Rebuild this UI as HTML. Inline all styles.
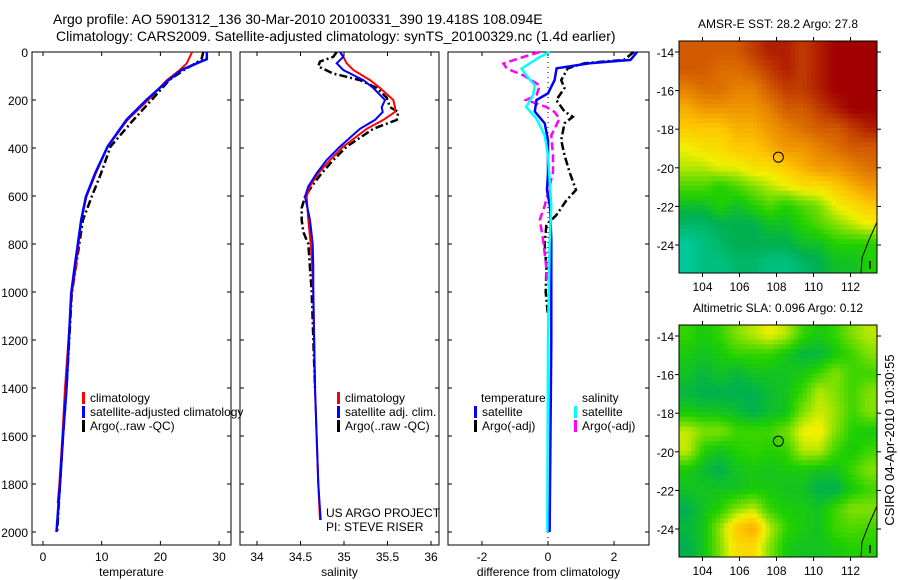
<!DOCTYPE html>
<html><head><meta charset="utf-8"><style>
body{margin:0;background:#fff}
svg{display:block;font-family:"Liberation Sans",sans-serif}
</style></head><body>
<svg id="c" width="900" height="580" xmlns="http://www.w3.org/2000/svg">
<rect width="900" height="580" fill="#fff"/>
<text x="53" y="24" font-size="14">Argo profile: AO 5901312_136 30-Mar-2010 20100331_390 19.418S 108.094E</text>
<text x="56" y="41" font-size="14">Climatology: CARS2009. Satellite-adjusted climatology: synTS_20100329.nc (1.4d earlier)</text>
<g id="g"></g>
<text transform="translate(894,440) rotate(-90)" font-size="13" text-anchor="middle">CSIRO 04-Apr-2010 10:30:55</text>
</svg>
<script>
// ---- data ----
const tDepth=[0,47,75,117,200,283,394,505,603,700,894,1005,1400,1600,1800,1880];
const tClim=[25.4,24.5,23.3,21.1,17.9,14.4,11,9,7.4,6.5,5.6,4.9,3.75,3.3,2.8,2.5];
const tSatDepth=[0,30,47,75,117,200,283,394,505,603,700,894,1005,1400,1600,1800,2000];
const tSat=[27.9,27.9,26.2,23.6,21.4,17.6,14.2,11,8.9,7.3,6.5,5.4,4.8,4,3.4,2.9,2.3];
const tArgo=[27.3,27.0,26.0,24,21.5,18.5,15.4,11.5,9.9,8.3,6.8,5.6,4.9,4,3.4,2.9,2.4];
const sDepth=[0,20,47,75,117,150,200,230,250,283,320,394,450,505,560,603,700,800,900,1000,1400,1800,1950];
const sClimZ=[1020,1030,1040,1060,1110,1140,1180,1185,1185,1150,1100,1030,990,955,930,920,925,932,937,940,945,955,960];
const sSatZ=[1020,1030,1010,1030,1090,1120,1155,1145,1148,1125,1080,1020,980,950,925,915,930,938,940,940,945,955,962];
const sArgoDepth=[0,20,40,60,90,117,150,190,230,250,283,320,394,450,505,560,603,650,700,750,800,900,1000,1400];
const sArgoZ=[1010,1000,960,955,1000,1080,1130,1160,1170,1195,1190,1120,1040,1000,965,935,915,905,905,910,925,930,935,945];
const dTSatDepth=[0,33,47,68,117,172,200,248,297,367,506,575,645,783,1200,2000];
const dTSat=[2.7,2.5,1.27,0.26,0.2,0,-0.35,-0.4,-0.1,0,0,-0.03,0.06,0.1,0.1,0.05];
const dTArgoDepth=[0,33,47,68,117,150,200,248,270,297,367,430,500,575,620,680,720,800,900,1000,1100];
const dTArgo=[2.6,2.3,1.1,0.6,0.4,0.5,0.25,0.5,0.75,0.5,0.4,0.5,0.65,0.85,0.55,0.25,-0.05,-0.1,-0.05,-0.07,0];
const dSSatDepth=[0,21,69,97,139,180,229,278,347,431,640,800,1200,2000];
const dSSat=[0.05,-0.25,-0.8,-0.66,-0.4,-0.45,-0.66,-0.35,-0.1,0,0.1,0.05,0,-0.02];
const dSArgoDepth=[0,21,48,69,97,139,180,200,229,250,278,347,431,500,560,640,700,780,900,960];
const dSArgo=[-0.25,-0.75,-1.35,-1.25,-0.75,-0.25,-0.35,-0.66,-0.05,0.2,0.35,0.1,0.15,0.15,0.05,-0.1,-0.25,-0.15,-0.05,-0.05];
const depthTicks=[0,200,400,600,800,1000,1200,1400,1600,1800,2000];
const tTicks=[0,10,20,30], sTicks=[34,34.5,35,35.5,36], dTicks=[-2,0,2];
const lonTicks=[104,106,108,110,112], latTicks=[-14,-16,-18,-20,-22,-24];
const sstGrid=[
[0.85,0.85,0.85,0.85,0.9,0.95,0.95,0.9,0.95,1,1,1],
[0.85,0.85,0.8,0.8,0.85,0.9,0.95,0.9,0.95,1,1,1],
[0.75,0.8,0.8,0.75,0.75,0.85,0.9,0.9,0.95,1,1,1],
[0.65,0.7,0.7,0.7,0.7,0.75,0.85,0.85,0.9,0.95,1,1],
[0.6,0.6,0.6,0.65,0.65,0.7,0.75,0.8,0.85,0.85,0.9,0.95],
[0.5,0.55,0.55,0.6,0.6,0.65,0.7,0.7,0.75,0.8,0.85,0.85],
[0.45,0.45,0.5,0.5,0.55,0.55,0.6,0.65,0.7,0.7,0.75,0.8],
[0.35,0.35,0.3,0.35,0.4,0.45,0.5,0.55,0.55,0.6,0.65,0.7],
[0.25,0.25,0.3,0.25,0.3,0.35,0.3,0.35,0.4,0.5,0.55,0.6],
[0.15,0.15,0.2,0.2,0.2,0.25,0.25,0.3,0.35,0.4,0.45,0.5],
[0.05,0.1,0.15,0.2,0.2,0.2,0.2,0.25,0.25,0.3,0.3,0.3],
[0.05,0.1,0.1,0.15,0.15,0.1,0.1,0.15,0.2,0.25,0.25,0.3]];
const slaGrid=[
[0.32,0.28,0.32,0.4,0.45,0.5,0.45,0.32,0.28,0.32,0.4,0.45],
[0.28,0.26,0.28,0.32,0.32,0.32,0.27,0.22,0.22,0.28,0.33,0.4],
[0.26,0.22,0.26,0.22,0.26,0.26,0.26,0.28,0.33,0.4,0.33,0.33],
[0.22,0.2,0.2,0.2,0.2,0.24,0.26,0.33,0.45,0.4,0.33,0.4],
[0.28,0.26,0.26,0.24,0.2,0.24,0.26,0.4,0.47,0.42,0.33,0.4],
[0.46,0.4,0.4,0.33,0.33,0.33,0.38,0.5,0.52,0.4,0.3,0.28],
[0.46,0.3,0.26,0.3,0.32,0.3,0.32,0.45,0.45,0.33,0.28,0.33],
[0.28,0.24,0.2,0.26,0.28,0.26,0.28,0.28,0.26,0.26,0.33,0.4],
[0.26,0.26,0.26,0.26,0.28,0.28,0.26,0.26,0.2,0.2,0.28,0.33],
[0.2,0.26,0.3,0.4,0.45,0.32,0.28,0.28,0.26,0.33,0.4,0.4],
[0.22,0.26,0.42,0.6,0.66,0.45,0.32,0.28,0.26,0.33,0.35,0.33],
[0.2,0.26,0.4,0.55,0.56,0.4,0.28,0.26,0.26,0.28,0.3,0.3]];
const argoLon=[108.1], argoLat=[-19.45];
// ---- drawing ----
const NS='http://www.w3.org/2000/svg', G=document.getElementById('g');
function mk(t,a,p){const e=document.createElementNS(NS,t);for(const k in a)e.setAttribute(k,a[k]);(p||G).appendChild(e);return e;}
const Y0=52,Y1=545,yD=d=>52+d*0.24;
const panels=[{x0:32,x1:231,f:v=>43+v*5.87,ticks:tTicks,lab:'temperature'},
{x0:240,x1:439,f:v=>257+(v-34)*87,ticks:sTicks,lab:'salinity'},
{x0:448,x1:649,f:v=>548+v*33,ticks:dTicks,lab:'difference from climatology'}];
const sz=z=>34+(z/3-257)/87;
panels.forEach((p,i)=>{
 const fr=mk('rect',{x:p.x0,y:Y0,width:p.x1-p.x0,height:Y1-Y0,fill:'none',stroke:'#000'});
 
 
 depthTicks.forEach(d=>{const y=yD(d);
  mk('line',{x1:p.x0,x2:p.x0+4,y1:y,y2:y,stroke:'#000'});mk('line',{x1:p.x1,x2:p.x1-4,y1:y,y2:y,stroke:'#000'});
  if(i==0){const t=mk('text',{x:28,y:y+5,'font-size':12,'text-anchor':'end'});t.textContent=d;
   
   }});
 p.ticks.forEach(v=>{const x=p.f(v);mk('line',{x1:x,x2:x,y1:Y1,y2:Y1-4,stroke:'#000'});mk('line',{x1:x,x2:x,y1:Y0,y2:Y0+4,stroke:'#000'});
  const t=mk('text',{x:x,y:Y1+16,'font-size':12,'text-anchor':'middle'});t.textContent=v;
  
  });
 const l=mk('text',{x:(p.x0+p.x1)/2,y:576,'font-size':12,'text-anchor':'middle'});l.textContent=p.lab;
 
 
});
function line(f,depths,vals,col,w,dash,name){
 const pts=depths.map((d,k)=>f(vals[k]).toFixed(1)+','+yD(d).toFixed(1)).join(' ');
 const e=mk('polyline',{points:pts,fill:'none',stroke:col,'stroke-width':w});
 if(dash)e.setAttribute('stroke-dasharray',dash);
 
 
}
const P=panels;
line(P[0].f,tSatDepth,tArgo,'#000',2.5,'8,3,2,3','temp-argo-line');
line(P[0].f,tDepth,tClim,'#f00',2,null,'temp-climatology-line');
line(P[0].f,tSatDepth,tSat,'#00f',2.5,null,'temp-satellite-line');
line(P[1].f,sArgoDepth,sArgoZ.map(sz),'#000',2.5,'8,3,2,3','sal-argo-line');
line(P[1].f,sDepth,sClimZ.map(sz),'#f00',2,null,'sal-climatology-line');
line(P[1].f,sDepth,sSatZ.map(sz),'#00f',2,null,'sal-satellite-line');
mk('line',{x1:548,x2:548,y1:Y0,y2:Y1,stroke:'#000','stroke-dasharray':'1,4'});
line(P[2].f,dTArgoDepth,dTArgo,'#000',2.5,'8,3,2,3','dtemp-argo-line');
line(P[2].f,dSArgoDepth,dSArgo,'#f0f',2.5,'8,4','dsal-argo-line');
line(P[2].f,dTSatDepth,dTSat,'#00f',2.5,null,'dtemp-satellite-line');
line(P[2].f,dSSatDepth,dSSat,'#0ff',2.5,null,'dsal-satellite-line');
function leg(x,y,col,txt,name){
 if(col){mk('rect',{x:x-8,y:y-10,width:3,height:12,fill:col});}
 const t=mk('text',{x:x,y:y,'font-size':12});t.textContent=txt;
 
 }
leg(90,402,'#f00','climatology','legend-climatology');
leg(90,416,'#00f','satellite-adjusted climatology','legend-satellite-adjusted');
leg(90,430,'#000','Argo(..raw -QC)','legend-argo');
leg(345,402,'#f00','climatology','legend-climatology-2');
leg(345,416,'#00f','satellite adj. clim.','legend-satellite-adj-2');
leg(345,430,'#000','Argo(..raw -QC)','legend-argo-2');
leg(481,402,null,'temperature','legend-temperature-header');
leg(482,416,'#00f','satellite','legend-temp-satellite');
leg(482,430,'#000','Argo(-adj)','legend-temp-argo');
leg(582,402,null,'salinity','legend-salinity-header');
leg(582,416,'#0ff','satellite','legend-sal-satellite');
leg(582,430,'#f0f','Argo(-adj)','legend-sal-argo');
leg(326,517,null,'US ARGO PROJECT','project-label');
leg(326,531,null,'PI: STEVE RISER','pi-label');
// colour ramp
const stops=[[0,[0,208,176]],[0.2,[0,176,80]],[0.3,[32,208,0]],[0.4,[128,224,0]],[0.5,[240,240,0]],[0.6,[255,200,0]],[0.7,[240,150,0]],[0.85,[210,90,0]],[1,[160,0,0]]];
function col(v){v=Math.max(0,Math.min(1,v));for(let i=1;i<stops.length;i++){if(v<=stops[i][0]){const a=stops[i-1],b=stops[i],t=(v-a[0])/(b[0]-a[0]);return 'rgb('+a[1].map((c,k)=>Math.round(c+(b[1][k]-c)*t)).join(',')+')';}}return 'rgb(160,0,0)';}
function bil(grid,r,c){const nr=grid.length,nc=grid[0].length;
 r=Math.max(0,Math.min(nr-1,r));c=Math.max(0,Math.min(nc-1,c));
 const r0=Math.floor(r),c0=Math.floor(c),r1=Math.min(nr-1,r0+1),c1=Math.min(nc-1,c0+1),fr=r-r0,fc=c-c0;
 return grid[r0][c0]*(1-fr)*(1-fc)+grid[r0][c1]*(1-fr)*fc+grid[r1][c0]*fr*(1-fc)+grid[r1][c1]*fr*fc;}
function map(yTop,yBot,latTop,grid,title,name){
 const X0=679,X1=877,lonL=102.73,lonR=113.43,latB=latTop-(yBot-yTop)/19.3;
 const fx=l=>X0+(l-lonL)*(X1-X0)/(lonR-lonL), fy=la=>yTop+(latTop-la)*(yBot-yTop)/(latTop-latB);
 const nr=grid.length,nc=grid[0].length,S=4,cw=(X1-X0)/(nc*S),ch=(yBot-yTop)/(nr*S);
 for(let r=0;r<nr*S;r++)for(let c=0;c<nc*S;c++){
  const v=bil(grid,(r+0.5)/S-0.5,(c+0.5)/S-0.5);
  const e=mk('rect',{x:(X0+c*cw).toFixed(2),y:(yTop+r*ch).toFixed(2),width:(cw+0.5).toFixed(2),height:(ch+0.5).toFixed(2),fill:col(v)});
  
  }
 mk('polyline',{points:`${X1},${yBot-51} ${X1-8},${yBot-33} ${X1-15},${yBot-15} ${X1-16},${yBot}`,fill:'none',stroke:'#000'});
 mk('line',{x1:X1-7,x2:X1-7,y1:yBot-12,y2:yBot-4,stroke:'#000','stroke-width':1.5});
 const fr=mk('rect',{x:X0,y:yTop,width:X1-X0,height:yBot-yTop,fill:'none',stroke:'#000'});
 
 
 lonTicks.forEach(l=>{const x=fx(l);mk('line',{x1:x,x2:x,y1:yTop,y2:yTop-4,stroke:'#000'});mk('line',{x1:x,x2:x,y1:yBot,y2:yBot+4,stroke:'#000'});
  const t=mk('text',{x:x,y:yBot+18,'font-size':12,'text-anchor':'middle'});t.textContent=l;
  
  });
 latTicks.forEach(la=>{const y=fy(la);mk('line',{x1:X0,x2:X0-4,y1:y,y2:y,stroke:'#000'});mk('line',{x1:X1,x2:X1+4,y1:y,y2:y,stroke:'#000'});
  const t=mk('text',{x:X0-5,y:y+5,'font-size':12,'text-anchor':'end'});t.textContent=la;
  
  });
 const c=mk('circle',{cx:fx(argoLon[0]),cy:fy(argoLat[0]),r:5,fill:'none',stroke:'#000'});
 
 
 const t=mk('text',{x:(X0+X1)/2,y:yTop-13,'font-size':12,'text-anchor':'middle'});t.textContent=title;
 
 
}
map(41,273,-13.43,sstGrid,'AMSR-E SST: 28.2 Argo: 27.8','sst-map');
map(325,557,-13.43,slaGrid,'Altimetric SLA: 0.096 Argo: 0.12','sla-map');
</script>
</body></html>
